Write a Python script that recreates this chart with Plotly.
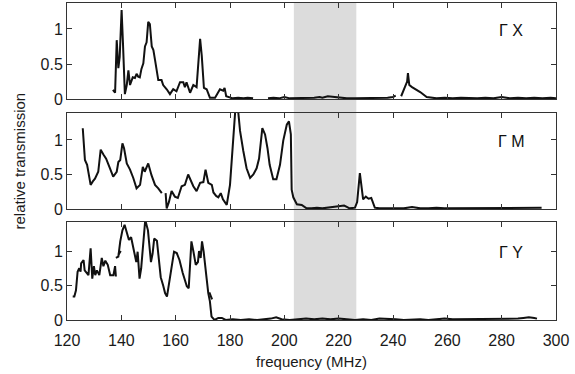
import plotly.graph_objects as go
from plotly.subplots import make_subplots

# Transmission spectra along three directions; None marks a break between sweeps
freq_gx = [136.9, 137.7, 138.3, 138.9, 139.4, 140.1, 140.6, 141.3, 142.0, 142.6, 143.2, 144.2, 145.0,
           145.6, 146.2, 146.8, 147.4, 148.1, 148.7, 149.3, 149.9, 150.5, 151.2, 151.8, 152.4, 153.6,
           154.8, 155.4, 156.7, 157.9, 159.1, 160.3, 161.6, 162.8, 163.4, 164.0, 165.3, 166.5, 167.7,
           169.0, 169.6, 170.4, 171.4, 172.6, 174.5, 176.3, 177.5, 178.0, 178.6, 181, 183, 185, 186.5,
           188.5, None,
           194, 196, 198, 200, 202, 205, 207, 209, 211, 213, 214, 216, 218, 220, 223, 226, 229, 232,
           235, 238, 240, 241, None,
           243, 244.4, 245.2, 245.5, 246, 247, 248, 250, 252.4, 254, 256, 259, 262, 265, 268, 271,
           274, 277, 280, 283, 286, 289, 292, 295, 298, 300]
trans_gx = [0.13, 0.09, 0.84, 0.44, 0.6, 1.27, 0.8, 0.07, 0.2, 0.41, 0.2, 0.31, 0.3,
            0.36, 0.32, 0.31, 0.43, 0.51, 0.75, 0.81, 1.10, 1.07, 0.75, 0.7, 0.56, 0.27,
            0.27, 0.2, 0.14, 0.07, 0.14, 0.11, 0.24, 0.24, 0.17, 0.24, 0.09, 0.2, 0.17,
            0.86, 0.62, 0.16, 0.14, 0.02, 0.02, 0.14, 0.12, 0.16, 0.04, 0.01, 0.02, 0.01, 0.02,
            0.01, None,
            0.01, 0.02, 0.01, 0.03, 0.01, 0.01, 0.02, 0.01, 0.02, 0.03, 0.02, 0.04, 0.03, 0.02, 0.01,
            0.01, 0.01, 0.02, 0.01, 0.02, 0.03, 0.05, None,
            0.04, 0.18, 0.25, 0.37, 0.2, 0.17, 0.15, 0.1, 0.03, 0.02, 0.01, 0.02, 0.01, 0.02, 0.01,
            0.01, 0.02, 0.01, 0.03, 0.01, 0.02, 0.01, 0.02, 0.01, 0.02, 0.01]

freq_gm = [125.8, 126.6, 127.4, 128.7, 129.5, 130.3, 131.5, 132.4, 133.4, 134.4, 135.6, 137.0, 138.3,
           138.9, 139.6, 140.4, 141.0, 142.0, 143.2, 144.4, 145.6, 146.9, 147.9, 148.6, 149.9, 151.1,
           152.4, 153.6, 154.9, None,
           156.3, 156.7, 157.5, 158.5, 159.7, 160.8, 162.2, 163.4, 164.6, 165.2, 166.5, 167.7, 169.0,
           170.2, 171.0, 172.0, 173.3, 173.9, 174.9, 175.7, 176.6, 177.4, 178.8, 180.0, 181.2, 182.0,
           182.9, 183.7, 184.9, 186.1, 187.4, 188.6, 189.8, 190.7, 191.9, 192.9, 193.8, 194.6, 195.9,
           197.1, 198.4, 199.6, 200.9, 201.7, 202.4, 202.7, 203.3, 204.6, 206.4, 208.2, 210, 212, 214,
           216, 218, 220, 222, 223, 224, 226, 226.8, 227.8, 229, 230, 231, 232, 233.3, 235, 238, 241,
           244, 247, 250, 253, 256, 259, 262, 265, 268, 271, 274, 277, 280, 283, 286, 289, 292, 294.7]
trans_gm = [1.17, 0.71, 0.64, 0.35, 0.4, 0.44, 0.54, 0.86, 0.79, 0.73, 0.61, 0.47, 0.54,
            0.68, 0.71, 0.95, 0.88, 0.66, 0.57, 0.45, 0.3, 0.35, 0.61, 0.54, 0.66, 0.49,
            0.35, 0.3, 0.23, None,
            0.23, 0.01, 0.1, 0.26, 0.18, 0.16, 0.33, 0.35, 0.5, 0.45, 0.33, 0.26, 0.38,
            0.39, 0.57, 0.38, 0.35, 0.24, 0.19, 0.17, 0.23, 0.14, 0.06, 0.35, 1.08, 1.46,
            1.46, 1.13, 0.84, 0.59, 0.45, 0.5, 0.59, 0.73, 1.17, 1.08, 0.88, 0.64, 0.43,
            0.43, 0.64, 0.99, 1.22, 1.27, 1.08, 0.28, 0.17, 0.07, 0.06, 0.01, 0.01, 0.02, 0.01,
            0.02, 0.04, 0.04, 0.05, 0.03, 0.01, 0.02, 0.1, 0.52, 0.14, 0.18, 0.15, 0.16, 0.02, 0.01, 0.01, 0.02,
            0.01, 0.03, 0.01, 0.01, 0.02, 0.01, 0.01, 0.02, 0.01, 0.01, 0.02, 0.01, 0.01, 0.02, 0.01, 0.02, 0.01, 0.02]

freq_gy = [122.1, 122.7, 123.3, 123.9, 124.5, 125.0, 125.2, 126.1, 126.5, 126.9, 127.9, 128.7, 129.3,
           129.9, 130.4, 131.0, 131.9, 132.8, 133.4, 134.1, 135.0, 135.9, 137.1, 137.7, 138.0, None,
           138.0, 138.9, 139.6, 140.4, 141.2, 142.0, 142.8, 143.6, 144.3, 145.5, 146.0, 146.7, 147.3,
           148.3, 148.8, 149.8, 150.4, 150.9, 151.5, 152.1, 153.1, 153.9, 154.5, 155.4, 156.1, 156.8,
           157.3, 158.5, 159.4, 160.4, 161.4, 162.6, 164.1, 164.8, 165.3, 165.8, 166.5, 167.4, 168.2,
           168.6, 169.2, 169.7, 170.3, 170.8, 171.4, 172.0, 172.6, 173.2, 174.3, 175.7, 177.0, 178.4,
           181, 184, 187, 190, 193, 195, 197, 199, 202, 205, 208, 211, 214, 217, 220, 223, 226, 229,
           232, 235, 238, 241, 244, 247, 250, 253, 256, 259, 262, 265, 268, 271, 274, 277, 280, 283,
           286, 288, 290, 292, 293, None,
           139.0, 139.8, None,
           172.4, 173.4]
trans_gy = [0.34, 0.34, 0.43, 0.7, 0.75, 0.7, 0.82, 0.87, 0.72, 0.7, 0.65, 1.04, 0.6,
            0.78, 0.65, 0.72, 0.65, 0.9, 0.78, 0.86, 0.8, 0.65, 0.65, 0.78, 0.63, None,
            0.9, 0.92, 1.14, 1.3, 1.38, 1.26, 1.16, 1.2, 1.08, 0.84, 0.99, 0.6, 0.75,
            1.35, 1.45, 1.3, 1.0, 0.84, 0.96, 1.18, 1.15, 0.84, 0.62, 0.5, 0.39, 0.34,
            0.46, 0.78, 0.99, 0.97, 0.87, 0.68, 0.49, 0.46, 0.75, 1.14, 1.0, 0.8, 0.84,
            1.0, 0.9, 1.14, 0.99, 0.84, 0.6, 0.39, 0.27, 0.05, 0.0, 0.03, 0.03, 0.0,
            0.01, 0.0, 0.01, 0.0, 0.01, 0.02, 0.04, 0.01, 0.0, 0.01, 0.02, 0.01, 0.02, 0.01, 0.02, 0.01, 0.0, 0.01,
            0.0, 0.02, 0.02, 0.01, 0.0, 0.01, 0.01, 0.0, 0.01, 0.02, 0.01, 0.01, 0.02, 0.01, 0.01, 0.02, 0.02, 0.01,
            0.02, 0.03, 0.04, 0.03, 0.02, None,
            0.95, 1.0, None,
            0.4, 0.3]

panel_labels = ["\u0393 X", "\u0393 M", "\u0393 Y"]
gap_band = [203.5, 226.5]
x_ticks = [120, 140, 160, 180, 200, 220, 240, 260, 280, 300]
y_ticks = [0, 0.5, 1]
y_tick_text = ["0", "0.5", "1"]

FONT = "Liberation Sans, Arial, sans-serif"

series = [(freq_gx, trans_gx), (freq_gm, trans_gm), (freq_gy, trans_gy)]
domains = [[0.697, 1.0], [0.350, 0.653], [0.0, 0.309]]
y_tops = [1.37, 1.39, 1.42]

fig = make_subplots(rows=3, cols=1, shared_xaxes=True)

for i, (fx, ty) in enumerate(series, start=1):
    fig.add_trace(go.Scatter(x=fx, y=ty, mode="lines", connectgaps=False,
                             line=dict(color="#111111", width=2),
                             showlegend=False, hoverinfo="skip"), row=i, col=1)

axis_style = dict(showline=True, linecolor="#333333", linewidth=1, mirror="ticks",
                  ticks="inside", ticklen=5, tickcolor="#333333", showgrid=False,
                  zeroline=False, tickfont=dict(family=FONT, size=16, color="#1a1a1a"))

for i in range(1, 4):
    fig.update_xaxes(range=[120, 300], tickvals=x_ticks, showticklabels=(i == 3),
                     ticklabelstandoff=6, row=i, col=1, **axis_style)
    fig.update_yaxes(range=[0, y_tops[i - 1]], tickvals=y_ticks, ticktext=y_tick_text,
                     domain=domains[i - 1], row=i, col=1, **axis_style)
    fig.add_annotation(x=283.5, y=0.98, xref=f"x{i if i > 1 else ''}", yref=f"y{i if i > 1 else ''}",
                       text=panel_labels[i - 1], showarrow=False,
                       font=dict(family=FONT, size=16, color="#111111"))

fig.update_xaxes(title_text="frequency (MHz)", title_standoff=8,
                 title_font=dict(family=FONT, size=15, color="#1a1a1a"),
                 row=3, col=1)

fig.add_annotation(x=0.0, y=0.5, xref="paper", yref="paper", xanchor="center", yanchor="middle",
                   xshift=-48, text="relative transmission", textangle=-90, showarrow=False,
                   font=dict(family=FONT, size=15, color="#1a1a1a"))

# Band gap region shaded across all three panels
fig.add_shape(type="rect", xref="x", yref="paper", x0=gap_band[0], x1=gap_band[1], y0=0, y1=1,
              fillcolor="#dcdcdc", line=dict(width=0), layer="below")

fig.update_layout(width=575, height=374, margin=dict(l=67, r=19, t=3, b=54),
                  paper_bgcolor="white", plot_bgcolor="rgba(0,0,0,0)")

fig.write_html("out.html")
